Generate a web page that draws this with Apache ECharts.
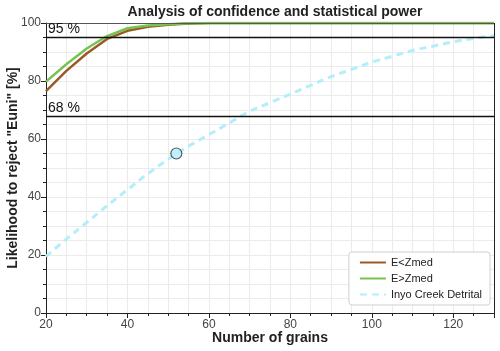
<!DOCTYPE html>
<html>
<head>
<meta charset="utf-8">
<script src="https://cdn.jsdelivr.net/npm/echarts@6/dist/echarts.min.js"></script>
<style>
  html, body { margin: 0; padding: 0; background: #fff; }
  #main { width: 500px; height: 351px; }
</style>
</head>
<body>
<div id="main"></div>
<script>
// data
const grains = [20, 25, 30, 35, 40, 45, 50, 55, 60, 65, 70, 75, 80, 85, 90, 95, 100, 105, 110, 115, 120, 125, 130]
const eLow = [76.5, 83.5, 89.5, 94.5, 97.3, 98.7, 99.4, 99.8, 100, 100, 100, 100, 100, 100, 100, 100, 100, 100, 100, 100, 100, 100, 100]
const eHigh = [79.8, 85.8, 91.2, 95.5, 98.2, 99.1, 99.6, 99.9, 100, 100, 100, 100, 100, 100, 100, 100, 100, 100, 100, 100, 100, 100, 100]
const inyo = [19.5, 25.5, 31.2, 37, 42.5, 48, 53, 57.5, 61.5, 65.5, 69.5, 72.5, 75.5, 78.5, 81.5, 84, 86.5, 88.5, 90.5, 92, 93.5, 94.7, 95.6]
const sample = [[52, 55]]
const thresholds = [95, 68]

const chart = echarts.init(document.getElementById('main'))

const zip = (xs, ys) => xs.map((x, i) => [x, ys[i]])
const gridColor = '#ebebeb'

const option = {
  animation: false,
  textStyle: { fontFamily: 'Liberation Sans, Arial, sans-serif' },
  title: {
    text: 'Analysis of confidence and statistical power',
    left: 270, top: 0, textAlign: 'center',
    textStyle: { fontSize: 14, fontWeight: 'bold', color: '#222' }
  },
  grid: { left: 46, right: 6, top: 23, bottom: 38, outerBoundsMode: 'none', containLabel: false },
  legend: {
    orient: 'vertical',
    right: 10, bottom: 46,
    data: ['E<Zmed', 'E>Zmed', 'Inyo Creek Detrital'],
    itemWidth: 26, itemHeight: 10, itemGap: 5,
    itemStyle: { opacity: 0 },
    backgroundColor: '#fff', borderColor: '#d0d0d0', borderWidth: 1, borderRadius: 3,
    padding: [5, 8, 5, 10],
    textStyle: { fontSize: 11, color: '#222' }
  },
  xAxis: {
    type: 'value', min: 20, max: 130, interval: 20,
    name: 'Number of grains', nameLocation: 'middle', nameGap: 18, nameMoveOverlap: false,
    nameTextStyle: { fontSize: 14, fontWeight: 'bold', color: '#222' },
    axisLine: { onZero: false, lineStyle: { color: '#222', width: 1 } },
    axisTick: { length: 5, lineStyle: { color: '#222' } },
    minorTick: { show: true, splitNumber: 4, length: 3, lineStyle: { color: '#222' } },
    axisLabel: { fontSize: 12, color: '#444', margin: 6, showMaxLabel: false },
    splitLine: { lineStyle: { color: gridColor } },
    minorSplitLine: { show: true, lineStyle: { color: gridColor } }
  },
  yAxis: {
    type: 'value', min: 0, max: 100, interval: 20,
    name: 'Likelihood to reject "Euni" [%]', nameLocation: 'middle', nameGap: 26, nameMoveOverlap: false,
    nameTextStyle: { fontSize: 14, fontWeight: 'bold', color: '#222' },
    axisLine: { show: true, onZero: false, lineStyle: { color: '#222', width: 1 } },
    axisTick: { show: true, length: 5, lineStyle: { color: '#222' } },
    minorTick: { show: true, splitNumber: 4, length: 3, lineStyle: { color: '#222' } },
    axisLabel: { fontSize: 12, color: '#444', margin: 5 },
    splitLine: { lineStyle: { color: gridColor } },
    minorSplitLine: { show: true, lineStyle: { color: gridColor } }
  },
  series: [
    {
      // frame lines on top and right
      type: 'line', silent: true, symbol: 'none', data: [],
      markLine: {
        silent: true, symbol: 'none', label: { show: false },
        lineStyle: { color: '#222', width: 1, type: 'solid' },
        data: [{ xAxis: 130 }, { yAxis: 100, lineStyle: { color: '#555' } }]
      }
    },
    {
      type: 'line', silent: true, symbol: 'none', data: [],
      markLine: {
        silent: true, symbol: 'none',
        lineStyle: { color: '#111', width: 1.3, type: 'solid' },
        label: { position: 'insideStartTop', distance: [2, 1], fontSize: 14, color: '#111', formatter: p => p.value + ' %' },
        data: thresholds.map(t => ({ yAxis: t }))
      }
    },
    {
      name: 'E<Zmed', type: 'line', symbol: 'none',
      data: zip(grains, eLow),
      lineStyle: { color: '#9a5a28', width: 2.5 }, itemStyle: { color: '#9a5a28' }
    },
    {
      name: 'E>Zmed', type: 'line', symbol: 'none',
      data: zip(grains, eHigh),
      lineStyle: { color: '#77c350', width: 2.5 }, itemStyle: { color: '#77c350' }
    },
    {
      name: 'Inyo Creek Detrital', type: 'line', symbol: 'none', smooth: true,
      data: zip(grains, inyo),
      lineStyle: { color: '#b3eefb', width: 3, type: [7, 5] }, itemStyle: { color: '#b3eefb' }
    },
    {
      type: 'scatter', symbolSize: 11,
      data: sample,
      itemStyle: { color: '#b3eefb', borderColor: '#333', borderWidth: 1.2 },
      z: 5
    }
  ]
}

chart.setOption(option)
</script>
</body>
</html>
